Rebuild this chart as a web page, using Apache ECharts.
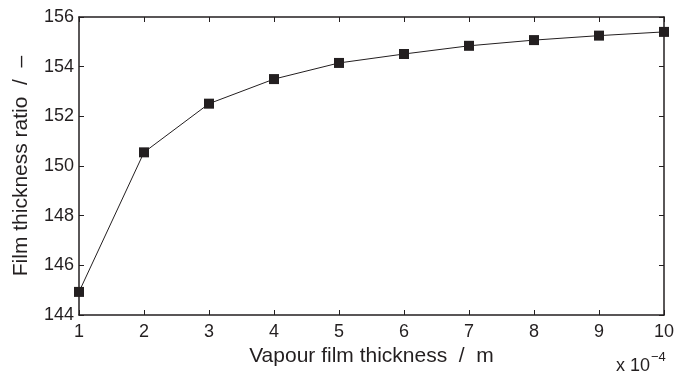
<!DOCTYPE html>
<html>
<head>
<meta charset="utf-8">
<script src="https://cdn.jsdelivr.net/npm/echarts@6/dist/echarts.min.js"></script>
<style>
html,body{margin:0;padding:0;background:#fff;}
#chart{width:677px;height:376px;}
</style>
</head>
<body>
<div id="chart"></div>
<script>
var xValues = [1, 2, 3, 4, 5, 6, 7, 8, 9, 10];
var ratioValues = [144.93, 150.55, 152.51, 153.50, 154.15, 154.51, 154.84, 155.07, 155.25, 155.40];
var xTitle = 'Vapour film thickness  /  m';
var yTitle = 'Film thickness ratio  /  \u2013';

var font = 'Liberation Sans, Arial, Helvetica, sans-serif';
var ink = '#231f20';
var chart = echarts.init(document.getElementById('chart'));
var tick = {show: true, inside: true, length: 5, lineStyle: {color: ink, width: 1}};
var line = {show: true, onZero: false, lineStyle: {color: ink, width: 1.5}};
var label = {color: ink, fontFamily: font, fontSize: 18};
chart.setOption({
  animation: false,
  grid: {left: 79, right: 13, top: 17, bottom: 61},
  xAxis: [{
    type: 'value', min: 1, max: 10, interval: 1,
    axisLine: line, axisTick: tick, splitLine: {show: false},
    axisLabel: Object.assign({margin: 8}, label),
    name: xTitle, nameLocation: 'middle', nameGap: 30,
    nameTextStyle: {color: ink, fontFamily: font, fontSize: 21}
  }, {
    type: 'value', min: 1, max: 10, interval: 1, position: 'top',
    axisLine: line, axisTick: tick, axisLabel: {show: false}, splitLine: {show: false}
  }],
  yAxis: [{
    type: 'value', min: 144, max: 156, interval: 2,
    axisLine: line, axisTick: tick, splitLine: {show: false},
    axisLabel: Object.assign({margin: 5}, label),
    name: yTitle, nameLocation: 'middle', nameGap: 47,
    nameTextStyle: {color: ink, fontFamily: font, fontSize: 21}
  }, {
    type: 'value', min: 144, max: 156, interval: 2, position: 'right',
    axisLine: line, axisTick: tick, axisLabel: {show: false}, splitLine: {show: false}
  }],
  graphic: [{
    type: 'text', left: 616, top: 351,
    style: {
      text: '{a|x 10}{b|\u22124}',
      rich: {
        a: {fontFamily: font, fontSize: 18, fill: ink, verticalAlign: 'bottom', lineHeight: 24},
        b: {fontFamily: font, fontSize: 13, fill: ink, verticalAlign: 'top', lineHeight: 24, padding: [0,0,11,1]}
      }
    }
  }],
  series: [{
    type: 'line',
    data: xValues.map(function (x, i) { return [x, ratioValues[i]]; }),
    symbol: 'rect', symbolSize: 10,
    lineStyle: {color: ink, width: 1},
    itemStyle: {color: ink}
  }]
});
</script>
</body>
</html>
